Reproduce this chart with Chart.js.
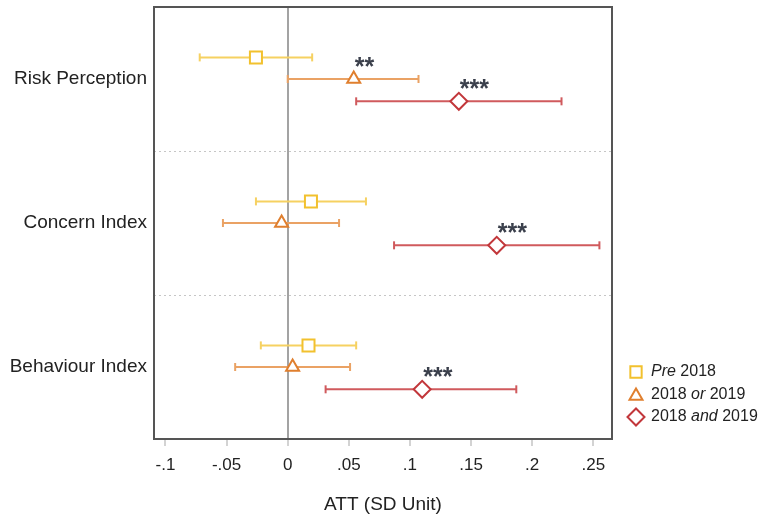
<!DOCTYPE html>
<html>
<head>
<meta charset="utf-8">
<script src="https://cdn.jsdelivr.net/npm/chart.js@4.4.1/dist/chart.umd.min.js"></script>
<style>
  html, body { margin: 0; padding: 0; background: #fff; }
  #wrap { position: relative; width: 762px; height: 517px; }
</style>
</head>
<body>
<div id="wrap"><canvas id="c"></canvas></div>
<script>
// ---- data ----
const categories = ['Risk Perception', 'Concern Index', 'Behaviour Index'];
const seriesNames = [['', 'Pre', ' 2018'], ['2018 ', 'or', ' 2019'], ['2018 ', 'and', ' 2019']];
const estPre = [-0.026, 0.019, 0.017];
const loPre  = [-0.072, -0.026, -0.022];
const hiPre  = [0.020, 0.064, 0.056];
const estOr  = [0.054, -0.005, 0.004];
const loOr   = [0.000, -0.053, -0.043];
const hiOr   = [0.107, 0.042, 0.051];
const estAnd = [0.140, 0.171, 0.110];
const loAnd  = [0.056, 0.087, 0.031];
const hiAnd  = [0.224, 0.255, 0.187];
const starsPre = ['', '', ''];
const starsOr  = ['**', '', ''];
const starsAnd = ['***', '***', '***'];
const xTickValues = [-0.1, -0.05, 0, 0.05, 0.1, 0.15, 0.2, 0.25];
const xTickLabels = ['-.1', '-.05', '0', '.05', '.1', '.15', '.2', '.25'];

// ---- styling ----
const FONT = "'Liberation Sans', Arial, sans-serif";
const series = [
  { est: estPre, lo: loPre, hi: hiPre, stars: starsPre, name: seriesNames[0],
    marker: '#F2C12E', line: '#F6D161', style: 'rect', radius: 8.5, off: -0.15 },
  { est: estOr, lo: loOr, hi: hiOr, stars: starsOr, name: seriesNames[1],
    marker: '#E07F2E', line: '#EAA264', style: 'triangle', radius: 7.5, off: 0.0 },
  { est: estAnd, lo: loAnd, hi: hiAnd, stars: starsAnd, name: seriesNames[2],
    marker: '#C2373B', line: '#D05A5D', style: 'rectRot', radius: 8.5, off: 0.155 }
];

const datasets = [];
series.forEach((s) => {
  categories.forEach((c, i) => {
    const y = i + 0.5 + s.off;
    datasets.push({
      data: [{ x: s.lo[i], y: y }, { x: s.hi[i], y: y }],
      showLine: true,
      borderColor: s.line,
      borderWidth: 2,
      pointStyle: 'line',
      pointRotation: 90,
      pointRadius: 4,
      pointBorderWidth: 2,
      pointBorderColor: s.line,
      pointHoverRadius: 4,
      order: 2
    });
  });
});
series.forEach((s) => {
  datasets.push({
    data: categories.map((c, i) => ({ x: s.est[i], y: i + 0.5 + s.off })),
    showLine: false,
    pointStyle: s.style,
    pointRadius: s.radius,
    pointHoverRadius: s.radius,
    pointBorderWidth: 2,
    pointBorderColor: s.marker,
    pointBackgroundColor: '#ffffff',
    order: 1
  });
});

const framePlugin = {
  id: 'frame',
  afterDatasetsDraw(chart) {
    const { ctx, chartArea: a, scales } = chart;
    ctx.save();
    // stars
    ctx.fillStyle = '#3b404c';
    ctx.font = 'bold 25px ' + FONT;
    ctx.textAlign = 'left';
    ctx.textBaseline = 'alphabetic';
    series.forEach((s) => {
      categories.forEach((c, i) => {
        if (!s.stars[i]) return;
        const px = scales.x.getPixelForValue(s.est[i]);
        const py = scales.y.getPixelForValue(i + 0.5 + s.off);
        ctx.fillText(s.stars[i], px + 1, py - 4);
      });
    });
    // frame
    ctx.strokeStyle = '#555555';
    ctx.lineWidth = 2;
    ctx.strokeRect(a.left, a.top, a.right - a.left, a.bottom - a.top);
    // legend
    const lx = 636, tx = 651, ly0 = 372, step = 22.5;
    series.forEach((s, k) => {
      const y = ly0 + k * step;
      ctx.fillStyle = '#ffffff';
      ctx.strokeStyle = s.marker;
      ctx.lineWidth = 2;
      Chart.helpers.drawPoint(ctx, {
        pointStyle: s.style, rotation: 0,
        radius: s.style === 'rectRot' ? 8.5 : (s.style === 'rect' ? 8 : 7.5),
        borderWidth: 2
      }, lx, y + (s.style === 'triangle' ? 1.5 : 0));
      ctx.fillStyle = '#222222';
      ctx.textBaseline = 'middle';
      let x = tx;
      s.name.forEach((part, j) => {
        ctx.font = (j === 1 ? 'italic ' : '') + '16px ' + FONT;
        ctx.fillText(part, x, y);
        x += ctx.measureText(part).width;
      });
    });
    ctx.restore();
  }
};

new Chart(document.getElementById('c'), {
  type: 'scatter',
  data: { datasets: datasets },
  options: {
    responsive: true,
    maintainAspectRatio: false,
    animation: false,
    events: [],
    layout: { autoPadding: false, padding: { top: 7, right: 150, bottom: 0, left: 0 } },
    plugins: { legend: { display: false }, tooltip: { enabled: false } },
    scales: {
      x: {
        type: 'linear',
        min: -0.1094,
        max: 0.2653,
        afterBuildTicks(scale) { scale.ticks = xTickValues.map(v => ({ value: v })); },
        afterFit(scale) { scale.height = 78; scale.paddingLeft = 0; scale.paddingRight = 0; },
        ticks: {
          autoSkip: false,
          maxRotation: 0,
          padding: 9,
          color: '#222222',
          font: { family: FONT, size: 17 },
          callback(v) { const k = xTickValues.indexOf(v); return k >= 0 ? xTickLabels[k] : ''; }
        },
        grid: {
          drawTicks: true,
          tickLength: 7,
          lineWidth: (ctx) => (ctx.tick && ctx.tick.value === 0 ? 2 : 0),
          color: (ctx) => (ctx.tick && ctx.tick.value === 0 ? '#a3a3a3' : 'rgba(0,0,0,0)'),
          tickColor: '#c4c4c4',
          tickWidth: 1.5
        },
        border: { display: false },
        title: {
          display: true,
          text: 'ATT (SD Unit)',
          color: '#222222',
          font: { family: FONT, size: 19 },
          padding: { top: 0, bottom: 1 }
        }
      },
      y: {
        type: 'linear',
        reverse: true,
        min: 0,
        max: 3,
        afterBuildTicks(scale) { scale.ticks = [0.5, 1, 1.5, 2, 2.5].map(v => ({ value: v })); },
        afterFit(scale) { scale.width = 154; scale.paddingTop = 0; scale.paddingBottom = 0; },
        ticks: {
          autoSkip: false,
          padding: 7,
          color: '#222222',
          font: { family: FONT, size: 19 },
          callback(v) { return Number.isInteger(v) ? '' : categories[Math.floor(v)]; }
        },
        grid: {
          drawTicks: false,
          lineWidth: 1,
          color: (ctx) => (ctx.tick && Number.isInteger(ctx.tick.value) ? '#c6c6c6' : 'rgba(0,0,0,0)')
        },
        border: { display: false, dash: [2, 3] }
      }
    }
  },
  plugins: [framePlugin]
});
</script>
</body>
</html>
